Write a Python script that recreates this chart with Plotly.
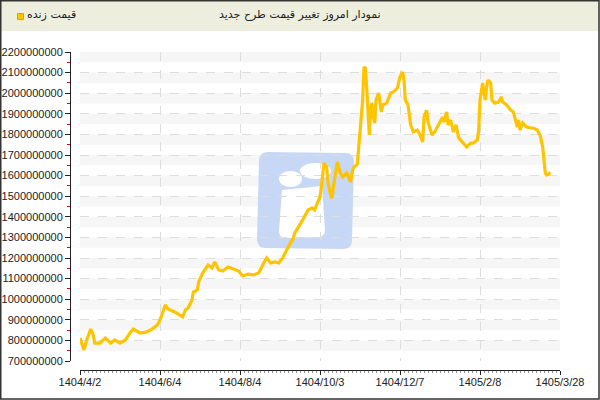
import plotly.graph_objects as go

# ---- data ----
day_index = [0, 3, 5, 8, 10, 11, 15, 19, 23, 26, 30, 34, 38, 40, 45, 50, 54, 58, 60, 64,
             66, 68, 71, 77, 79, 81, 84, 85, 88, 89, 92, 96, 99, 101, 104, 107, 111, 115, 119, 122,
             126, 130, 134, 137, 140, 143, 146, 149, 152, 155, 158, 160, 161, 164, 167, 169, 171, 174, 176, 178,
             180, 181, 182, 183, 185, 186, 188, 189, 190, 193, 195, 197, 200, 203, 204, 205, 208, 209, 210, 212,
             213, 214, 215, 216, 217, 218, 219, 220, 221, 222, 224, 226, 227, 230, 233, 235, 238, 240, 242, 243,
             244, 246, 248, 250, 253, 255, 257, 258, 260, 261, 264, 266, 269, 272, 273, 275, 276, 278, 280, 282,
             284, 287, 290, 293, 295, 298, 299, 300, 302, 303, 304, 305, 306, 308, 309, 311, 314, 316, 317, 320,
             323, 325, 328, 329, 330, 332, 335, 338, 340, 343, 345, 347, 348, 349, 350, 353]

price_million = [812, 754, 802, 855, 826, 787, 787, 812, 787, 802, 787, 802, 841, 855, 836, 841, 855, 875, 899, 972,
                 952, 948, 938, 914, 948, 957, 996, 1035, 1045, 1084, 1127, 1166, 1151, 1181, 1142, 1137, 1156, 1147, 1137, 1113,
                 1122, 1118, 1127, 1166, 1200, 1176, 1181, 1176, 1200, 1239, 1273, 1297, 1321, 1351, 1385, 1409, 1433, 1443, 1433, 1467,
                 1496, 1545, 1593, 1661, 1642, 1564, 1506, 1491, 1545, 1666, 1618, 1593, 1613, 1569, 1613, 1637, 1656, 1724, 1821, 1967,
                 2127, 2122, 2030, 1884, 1797, 1933, 1952, 1884, 1855, 1967, 2001, 1909, 1943, 1952, 2001, 2006, 2025, 2079, 2103, 2064,
                 1967, 1943, 1846, 1812, 1821, 1797, 1763, 1884, 1918, 1860, 1797, 1812, 1846, 1884, 1860, 1909, 1846, 1870, 1812, 1846,
                 1783, 1758, 1739, 1758, 1758, 1773, 1821, 1967, 2050, 2001, 1967, 2030, 2064, 2050, 1967, 1952, 1957, 1982, 1957, 1943,
                 1918, 1909, 1836, 1870, 1821, 1855, 1836, 1831, 1831, 1821, 1797, 1739, 1676, 1613, 1603, 1613]

tick_positions = [0, 60, 120, 180, 240, 300, 360]
tick_labels = ["1404/4/2", "1404/6/4", "1404/8/4", "1404/10/3", "1404/12/7", "1405/2/8", "1405/3/28"]

title_text = "نمودار امروز تغییر قیمت طرح جدید"
series_name = "قیمت زنده"

prices = [v * 1_000_000 for v in price_million]

# ---- layout geometry helpers (pixel -> paper / axis units, for decoration only) ----
W, H = 600, 400
ML, MR, MT, MB = 70, 40, 52, 30
PW, PH = W - ML - MR, H - MT - MB
X0PX, X1PX = 80, 560      # pixel span of the x range [0, 360]
Y0PX, Y1PX = 361, 52      # pixel span of the y range [700e6, 2200e6]


def px(x):
    return (x - ML) / PW


def py(y):
    return (H - MB - y) / PH


def dx(x):
    return (x - X0PX) / (X1PX - X0PX) * 360


def dy(y):
    return 700e6 + (Y0PX - y) / (Y0PX - Y1PX) * 1500e6


fig = go.Figure()
fig.add_trace(go.Scatter(
    x=day_index, y=prices, mode="lines", name=series_name,
    line=dict(color="#FFC400", width=3.2), showlegend=False,
    hoverinfo="skip",
))

shapes = []
# alternating light bands
for k in range(7, 22):
    shapes.append(dict(type="rect", xref="x", yref="y", x0=0, x1=360,
                       y0=k * 100e6 + 50e6, y1=(k + 1) * 100e6,
                       fillcolor="#F6F6F6", line=dict(width=0), layer="below"))
# watermark logo
shapes.append(dict(type="path", xref="x", yref="y", layer="below",
                   path=(f"M {dx(268)},{dy(152)} L {dx(345)},{dy(153)} Q {dx(354)},{dy(153)} {dx(354)},{dy(162)} "
                         f"L {dx(352)},{dy(240)} Q {dx(352)},{dy(249)} {dx(343)},{dy(249)} "
                         f"L {dx(266)},{dy(248)} Q {dx(257)},{dy(248)} {dx(257)},{dy(239)} "
                         f"L {dx(259)},{dy(161)} Q {dx(259)},{dy(152)} {dx(268)},{dy(152)} Z"),
                   fillcolor="#C6D8F6", line=dict(width=0)))
shapes.append(dict(type="circle", xref="x", yref="y", layer="below",
                   x0=dx(279), x1=dx(302), y0=dy(187), y1=dy(171),
                   fillcolor="white", line=dict(width=0)))
shapes.append(dict(type="circle", xref="x", yref="y", layer="below",
                   x0=dx(300), x1=dx(331), y0=dy(179), y1=dy(163),
                   fillcolor="white", line=dict(width=0)))
shapes.append(dict(type="path", xref="x", yref="y", layer="below",
                   path=(f"M {dx(282)},{dy(190)} L {dx(322)},{dy(186)} L {dx(325)},{dy(230)} "
                         f"Q {dx(325)},{dy(237)} {dx(318)},{dy(237)} L {dx(286)},{dy(238)} "
                         f"Q {dx(279)},{dy(238)} {dx(279)},{dy(231)} Z"),
                   fillcolor="white", line=dict(width=0)))
# header bar
shapes.append(dict(type="rect", xref="paper", yref="paper", layer="above",
                   x0=px(0), x1=px(600), y0=py(31), y1=py(0),
                   fillcolor="#EEEEDF", line=dict(width=0)))
# outer border
shapes.append(dict(type="rect", xref="paper", yref="paper", layer="above",
                   x0=px(0.75), x1=px(599), y0=py(399), y1=py(0.75),
                   fillcolor="rgba(0,0,0,0)", line=dict(color="#333333", width=1.5)))
# legend square
shapes.append(dict(type="rect", xref="paper", yref="paper", layer="above",
                   x0=px(17.5), x1=px(23.5), y0=py(19.5), y1=py(13.5),
                   fillcolor="#FFC400", line=dict(color="#E0A000", width=1)))

annotations = [
    dict(text=title_text, xref="paper", yref="paper", x=px(300), y=py(15),
         showarrow=False, font=dict(family="DejaVu Sans", size=11, color="#222222"),
         xanchor="center", yanchor="middle"),
    dict(text=series_name, xref="paper", yref="paper", x=px(25), y=py(15),
         showarrow=False, font=dict(family="DejaVu Sans", size=11, color="#222222"),
         xanchor="left", yanchor="middle"),
]

fig.update_layout(
    width=W, height=H, autosize=False,
    margin=dict(l=ML, r=MR, t=MT, b=MB, pad=0, autoexpand=False),
    paper_bgcolor="white", plot_bgcolor="white",
    shapes=shapes, annotations=annotations,
    font=dict(family="Liberation Sans", size=11, color="#222222"),
    xaxis=dict(
        domain=[(X0PX - ML) / PW, 1], anchor="free", position=0,
        range=[0, 360], tickvals=tick_positions, ticktext=tick_labels,
        showline=True, linecolor="#222222", linewidth=1,
        ticks="outside", ticklen=4, tickcolor="#222222",
        ticklabelstandoff=-2,
        showgrid=True, gridcolor="#DDDDDD", griddash="dash", gridwidth=1,
        zeroline=False, automargin=False,
        minor=dict(dtick=3, ticks="outside", ticklen=2, tickcolor="#999999", showgrid=False),
        tickfont=dict(family="Liberation Sans", size=11, color="#222222"),
    ),
    yaxis=dict(
        domain=[(H - MB - Y0PX) / PH, 1], anchor="free", position=0,
        range=[700e6, 2200e6], dtick=100e6, tick0=0, tickformat="d",
        showline=True, linecolor="#222222", linewidth=1,
        ticks="outside", ticklen=5, tickcolor="#222222",
        showgrid=True, gridcolor="#DDDDDD", griddash="dash", gridwidth=1,
        zeroline=False, automargin=False,
        minor=dict(dtick=50e6, ticks="outside", ticklen=3, tickcolor="red", showgrid=False),
        tickfont=dict(family="Liberation Sans", size=11, color="#222222"),
    ),
)

fig.write_html("out.html", config={"displayModeBar": False},
               post_script="document.body.style.margin='0';document.body.style.overflow='hidden';")
